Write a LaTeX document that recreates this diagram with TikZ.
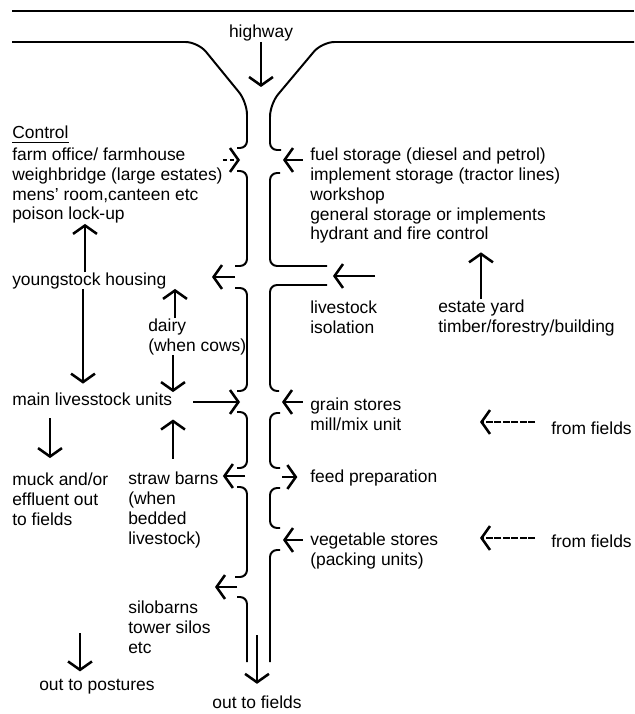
\documentclass[tikz,border=0pt]{standalone}
\usepackage{fontspec}
\setmainfont{Liberation Sans}
\usetikzlibrary{arrows.meta}

\begin{document}
\begin{tikzpicture}[x=0.025cm,y=-0.025cm,
  >={Straight Barb[length=6pt,width=17pt,line width=1.8pt]},
  txt/.style={anchor=base west,inner sep=0pt,align=left,
    font=\fontsize{12.4}{14.2}\selectfont},
  road/.style={line width=1.4pt,rounded corners=5pt},
  arr/.style={->,line width=1pt}]
  \useasboundingbox (0,0) rectangle (634,714);

  % highway
  \draw[line width=1.4pt] (12,11) -- (634,11);
  \draw[road] (12,42) [rounded corners=9pt] -- (198,42) -- (247,102) [rounded corners=5pt] -- (247,148) -- (237,148);
  \draw[road] (634,42) [rounded corners=9pt] -- (322,42) -- (270,104) [rounded corners=5pt] -- (270,150) -- (281,150);
  \node[txt,anchor=base] (hwy) at (261,38) {highway};

  % farm road, left side
  \draw[road] (237,171) -- (247,171) -- (247,266) -- (235,266);
  \draw[road] (235,288) -- (247,288) -- (247,391) -- (237,391);
  \draw[road] (237,412) -- (247,412) -- (247,468) -- (237,468);
  \draw[road] (237,487) -- (247,487) -- (247,577) -- (235,577);
  \draw[road] (237,597) -- (247,597) -- (247,662);
  % farm road, right side
  \draw[road] (280,173) -- (270,173) -- (270,266) -- (327,266);
  \draw[road] (327,285) -- (270,285) -- (270,391) -- (279,391);
  \draw[road] (280,413) -- (270,413) -- (270,468) -- (280,468);
  \draw[road] (280,488) -- (270,488) -- (270,528) -- (280,528);
  \draw[road] (280,550) -- (270,550) -- (270,662);

  % left column (multi-line nodes sit on their last line)
  \node[txt] (ctrl) at (12,139) {Control};
  \draw[line width=0.8pt] ([yshift=-2.2pt]ctrl.base west) -- ([yshift=-2.2pt]ctrl.base east);
  \node[txt] (office) at (12,220) {farm office/ farmhouse\\weighbridge (large estates)\\mens' room,canteen etc\\poison lock-up};
  \node[txt] (young) at (12,285) {youngstock housing};
  \node[txt] (dairy) at (148,351) {dairy\\(when cows)};
  \node[txt] (main) at (12,405) {main livesstock units};
  \node[txt] (muck) at (12,525) {muck and/or\\effluent out\\to fields};
  \node[txt] (straw) at (128,544) {straw barns\\(when\\bedded\\livestock)};
  \node[txt] (silo) at (128,653) {silobarns\\tower silos\\etc};
  \node[txt] (pst) at (39,690) {out to postures};
  \node[txt,anchor=base] (outf) at (257,708) {out to fields};

  % right column
  \node[txt] (fuel) at (310,240) {fuel storage (diesel and petrol)\\implement storage (tractor lines)\\workshop\\general storage or implements\\hydrant and fire control};
  \node[txt] (isol) at (310,333) {livestock\\isolation};
  \node[txt] (yard) at (438,332) {estate yard\\timber/forestry/building};
  \node[txt] (grain) at (310,430) {grain stores\\mill/mix unit};
  \node[txt] (ff1) at (551,434) {from fields};
  \node[txt] (feed) at (310,482) {feed preparation};
  \node[txt] (veg) at (310,565) {vegetable stores\\(packing units)};
  \node[txt] (ff2) at (551,547) {from fields};

  % free ends
  \coordinate (hwyend) at (261,87);
  \coordinate (gl1) at (240,160);
  \coordinate (gl2) at (235,277);
  \coordinate (gl2t) at (212,277);
  \coordinate (gl3s) at (193,402);
  \coordinate (gl3) at (240,402);
  \coordinate (gl4) at (245,476);
  \coordinate (gl5) at (237,587);
  \coordinate (gl5t) at (215,587);
  \coordinate (gr1) at (283,160);
  \coordinate (gr2s) at (375,276);
  \coordinate (gr2) at (333,276);
  \coordinate (gr3) at (282,402);
  \coordinate (gr4) at (282,477);
  \coordinate (gr5) at (283,540);
  \coordinate (fa1s) at (535,422);
  \coordinate (fa1) at (480,422);
  \coordinate (fa2s) at (535,538);
  \coordinate (fa2) at (480,538);
  \coordinate (pst1) at (80,633);
  \coordinate (outa) at (257,635);

  % arrows
  \draw[arr] (hwy.south -| hwyend) -- (hwyend);
  \draw[arr,dash pattern=on 3pt off 2pt] (office.east |- gl1) -- (gl1);
  \draw[arr] (gl2) -- (gl2t);
  \draw[arr] (gl3s) -- (gl3);
  \draw[arr,shorten >=3pt] (gl4) -- (straw.east |- gl4);
  \draw[arr] (gl5) -- (gl5t);
  \draw[arr,shorten <=5pt] (fuel.west |- gr1) -- (gr1);
  \draw[arr] (gr2s) -- (gr2);
  \draw[arr,shorten <=5pt] (grain.west |- gr3) -- (gr3);
  \draw[arr,shorten >=9pt] (gr4) -- (feed.west |- gr4);
  \draw[arr,shorten <=5pt] (veg.west |- gr5) -- (gr5);
  \draw[arr,dash pattern=on 5pt off 1pt] (fa1s) -- (fa1);
  \draw[arr,dash pattern=on 5pt off 1pt] (fa2s) -- (fa2);

  \draw[arr] (young.north -| 85,0) -- (office.south -| 85,0);
  \draw[arr,shorten >=6pt] (young.south -| 83,0) -- (main.north -| 83,0);
  \draw[arr] (dairy.north -| 175,0) -- (young.south -| 175,0);
  \draw[arr] (dairy.south -| 173,0) -- (main.north -| 173,0);
  \draw[arr,shorten <=9pt,shorten >=10pt] (straw.north -| 173,0) -- (main.south -| 173,0);
  \draw[arr,shorten <=9pt,shorten >=10pt] (main.south -| 50,0) -- (muck.north -| 50,0);
  \draw[arr,shorten >=6pt] (yard.north -| 481,0) -- (fuel.south -| 481,0);
  \draw[arr,shorten >=5pt] (pst1) -- (pst.north -| pst1);
  \draw[arr,shorten >=8pt] (outa) -- (outf.north -| outa);
\end{tikzpicture}
\end{document}
